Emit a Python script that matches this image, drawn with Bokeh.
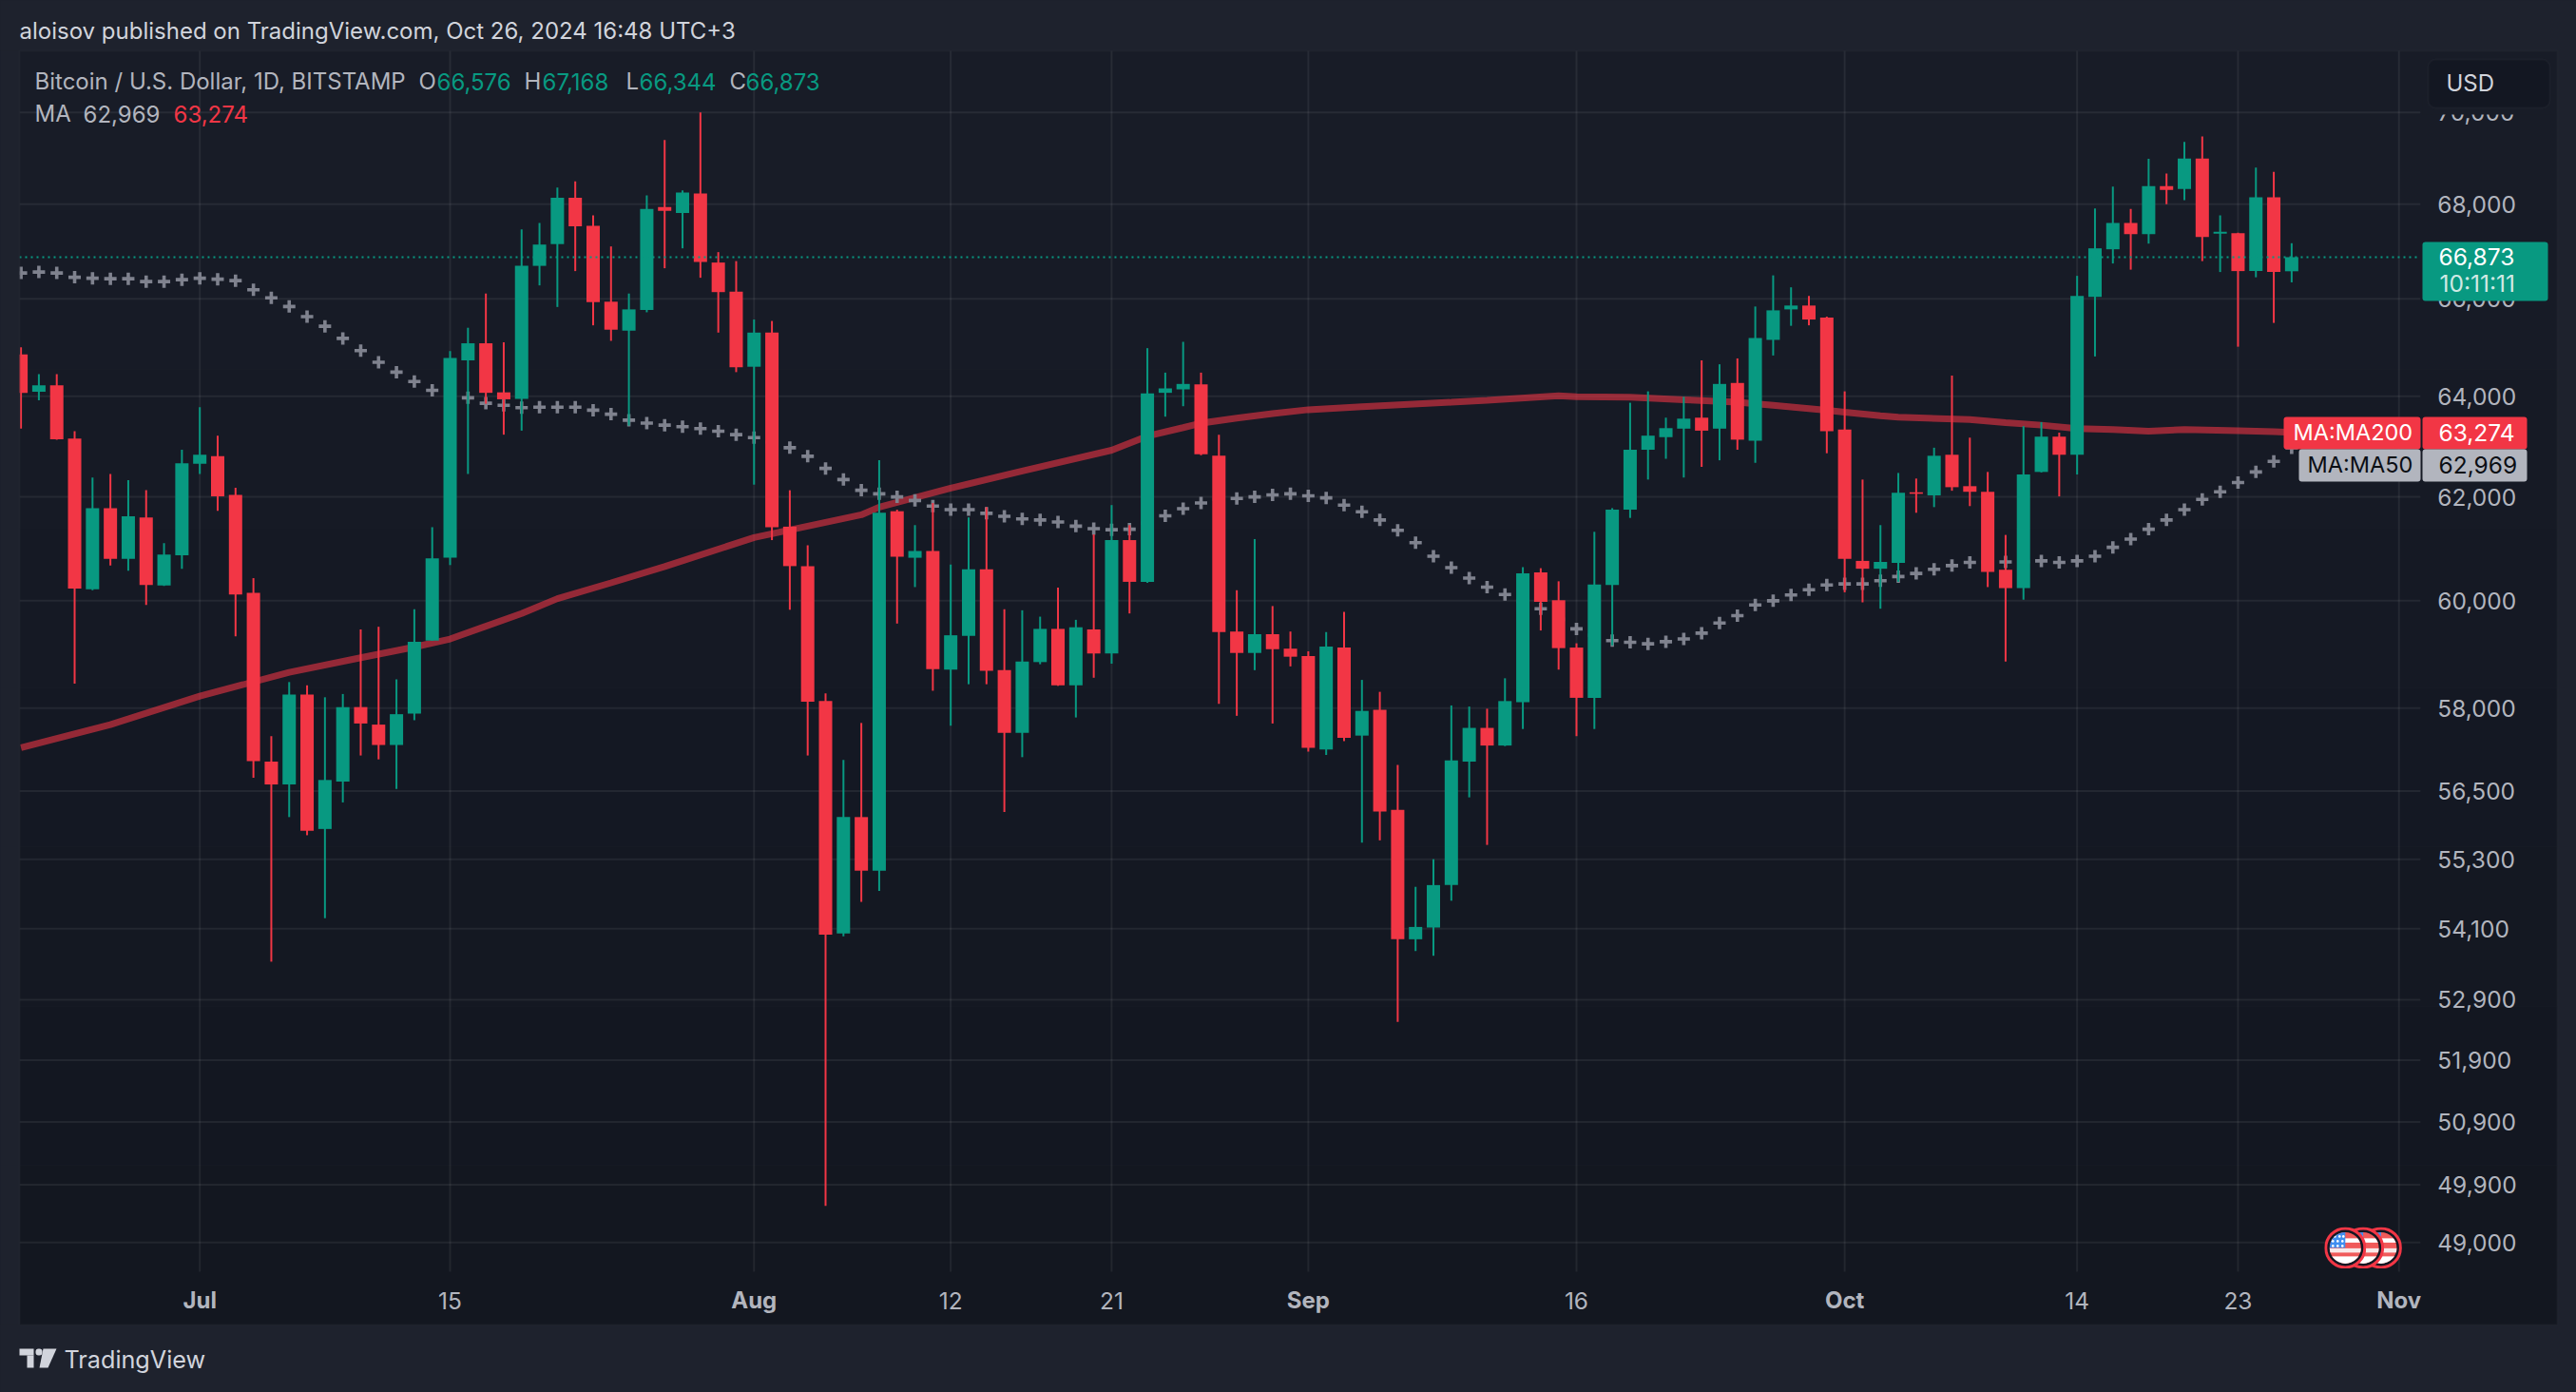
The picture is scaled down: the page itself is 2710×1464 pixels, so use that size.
import base64
from bokeh.plotting import figure
from bokeh.models import (ColumnDataSource, FixedTicker, NumeralTickFormatter, Range1d, Label, LinearAxis, LogAxis,
                          BoxAnnotation, PolyAnnotation)
from bokeh.embed import file_html
from bokeh.resources import INLINE

# ---------- data (days counted from 1 Jul 2024) ----------
days = list(range(-10, 118))
opens = [64850,64090,64220,63150,60220,61780,60800,61600,60290,60870,
 62650,62800,62040,60150,57030,56620,58250,55830,56670,58020,57700,57330,57900,59250,60820,64730,65080,64080,63950,66690,
 67150,68140,67540,65940,65340,65770,67940,67810,68230,66760,66150,64600,65300,61420,60660,58130,54020,56040,55100,61720,
 60820,60950,58710,59340,60600,58700,57550,58850,59470,58420,59460,59010,61160,60360,64070,64140,64240,62810,59420,59020,
 59370,59100,58960,57250,59120,57500,57970,56170,53920,54120,54850,57030,57640,57320,58110,60540,60010,59120,58190,60300,
 61750,62930,63180,63350,63570,63350,64270,63110,65150,65780,65860,65610,63330,60760,60610,60720,62090,62030,62830,62210,
 62100,60590,60240,62490,63190,62830,66040,67040,67600,67360,68390,68330,68990,67370,67380,66580,68150,66576]
highs = [65000,64450,64450,63300,62380,62450,62330,62130,61100,62930,
 63780,63210,62180,60430,57490,58480,58420,58200,58260,59460,59510,58530,59840,61410,64920,65400,66110,65100,67460,67600,
 68360,68490,67760,67100,66110,68190,69390,68300,70000,66980,66790,65570,65540,62130,61060,58270,57060,57730,62720,61750,
 61450,61880,60690,61600,61800,59840,59820,59700,60250,59640,61270,61840,61450,64980,64480,65110,64480,63230,60200,61180,
 59900,59420,59050,59410,59790,58520,58300,56970,54820,55300,58050,58030,57990,58550,60640,60620,60370,59200,61320,61780,
 63870,64100,63570,63990,64730,64650,64770,65840,66490,66240,66060,65630,64100,62340,61450,62470,62360,62970,64420,63170,
 62490,61260,63400,63480,63270,66480,67910,68380,67900,68980,68660,69350,69470,67760,67390,68790,68700,67168]
lows = [63350,63920,63130,58450,60200,60670,60570,59920,60280,60610,
 62450,61730,59330,56740,53540,56040,55720,54280,56300,57140,57070,56540,57780,59250,60680,62450,63850,63230,63310,66280,
 65830,66580,65450,65130,63410,65720,66640,67060,66440,65300,64490,62240,61160,59830,57140,49570,53970,54560,54750,59570,
 60260,58320,57680,58440,58440,56130,57110,58810,58410,57830,58560,58820,59760,60340,63590,63800,62820,58080,57860,58700,
 57720,58770,57210,57150,57400,55590,55630,52530,53720,53640,54580,56390,55550,57310,57620,59440,58710,57490,57620,59160,
 61590,62340,62750,62380,62590,62720,62930,62670,64830,65440,65450,62860,60160,59970,59850,60360,61690,61800,62120,61820,
 60260,58860,60020,62480,62010,62440,64810,66740,66610,67160,68000,68090,66790,66560,65010,66450,65500,66344]
closes = [64070,64220,63140,60230,61780,60800,61620,60300,60880,62660,
 62830,62010,60120,57040,56620,58250,55800,56700,58020,57720,57330,57890,59230,60810,64780,65080,64070,63940,66690,67140,
 68140,67530,65930,65360,65780,67900,67860,68250,66770,66140,64590,65300,61410,60660,58120,54000,56040,55100,61690,60840,
 60950,58720,59350,60600,58690,57550,58860,59470,58420,59500,59010,61160,60360,64060,64160,64250,62840,59410,59020,59370,
 59090,58950,57280,59140,57460,57950,56140,53920,54130,54850,57050,57640,57320,58130,60520,59980,59110,58190,60310,61750,
 62930,63210,63360,63550,63310,64250,63130,65190,65760,65860,65570,63300,60800,60610,60740,62080,62060,62810,62190,62100,
 60550,60240,62440,63190,62830,66060,67060,67600,67360,68390,68310,68990,67300,67410,66580,68150,66560,66873]
ma50 = [66540,66560,66540,66450,66430,66420,66420,66360,66360,66400,
 66430,66410,66380,66190,66020,65840,65630,65430,65180,64930,64690,64490,64300,64120,64040,63970,63860,63820,63770,63780,
 63780,63780,63720,63640,63520,63460,63420,63390,63350,63300,63230,63170,63080,62970,62800,62560,62340,62130,62060,62000,
 61930,61820,61750,61750,61680,61620,61570,61550,61510,61430,61380,61360,61370,61490,61630,61770,61880,61950,61970,62000,
 62040,62060,62020,61980,61840,61710,61550,61350,61110,60850,60630,60430,60260,60120,59990,59850,59650,59470,59350,59250,
 59220,59190,59230,59280,59390,59580,59720,59920,60000,60110,60210,60300,60320,60320,60380,60460,60520,60600,60670,60730,
 60740,60740,60750,60760,60730,60760,60850,61020,61180,61370,61550,61750,61950,62100,62280,62490,62700,62969]
ma200_days = [-10,-5,0,5,9,12,14,18,20,23,26,31,37,38,42,46,51,53,55,56,58,60,62,65,70,72,76,77,80,83,86,88,91,92,94,95,99,101,103,105,107,109,111,114,116,117]
ma200 = [57280,57700,58220,58660,58930,59130,59280,59760,60040,60340,60650,61210,61650,61800,62170,62510,62920,63200,63370,63460,
 63560,63650,63730,63790,63880,63920,64010,63990,63980,63930,63880,63820,63720,63680,63610,63580,63530,63470,63420,63350,
 63330,63300,63330,63310,63290,63274]
price_ticks = [49000,49900,50900,51900,52900,54100,55300,56500,58000,60000,62000,64000,66000,68000,70000]
day_ticks = [14,42,51,77,105,114]
day_labels = ["15","12","21","16","14","23"]
month_ticks = [0,31,62,92,123]
month_labels = ["Jul","Aug","Sep","Oct","Nov"]
event_days = [122,121,120]
event_price = 48916
last_price = 66873

# ---------- style ----------
UP, DOWN = "#089981", "#f23645"
OUTER, EDGE = "#1e222d", "#2a2e39"
GRAD = ["#181c27","#171b26","#161a25","#151924","#141823","#141822","#131721","#131720"]
FONT = "Inter"
AXIS_TXT, HEAD_TXT = "#b2b5be", "#d1d4dc"
PANE_L, PANE_R, PANE_B, PANE_T = -10.085, 124.2, 48547, 71372   # pane limits on the chart's own scales

# the frame covers the whole canvas so that axes and tags can sit anywhere on it
p = figure(width=2710, height=1464, output_backend="svg", toolbar_location=None,
           y_axis_type="log", x_axis_location=None, y_axis_location=None,
           x_range=Range1d(-11.148, 132.93), y_range=Range1d(46733, 72517),
           min_border=0, background_fill_alpha=0, border_fill_color=OUTER, outline_line_color=None)
p.grid.visible = False

def box(l, r, t, b, **kw):
    a = BoxAnnotation(left=l, right=r, top=t, bottom=b,
                      left_units="canvas", right_units="canvas", top_units="canvas", bottom_units="canvas", **kw)
    p.add_layout(a)
    return a

def text(x, y, s, color=AXIS_TXT, size=24, **kw):
    kw.setdefault("text_baseline", "middle")
    lab = Label(x=x, y=y, x_units="canvas", y_units="canvas", text=s, text_color=color,
                text_font=FONT, text_font_size=f"{size}px", **kw)
    p.add_layout(lab)
    return lab

# whole-page background and panel gradient
box(0, 2710, 0, 1464, fill_color=OUTER, fill_alpha=1, line_color=None, level="image")
top0, bot0 = 53, 1393
n = len(GRAD)
for i, c in enumerate(GRAD):
    box(20, 2690, top0 + (bot0-top0)*i//n, top0 + (bot0-top0)*(i+1)//n, fill_color=c, fill_alpha=1,
        line_color=None, level="image")

# grid, limited to the pane
all_ticks = day_ticks + month_ticks
p.segment(x0=[PANE_L]*len(price_ticks), x1=[PANE_R]*len(price_ticks), y0=price_ticks, y1=price_ticks,
          line_color="#f2f2f2", line_alpha=0.07, line_width=2, level="underlay")
p.segment(x0=all_ticks, x1=all_ticks, y0=[PANE_B]*len(all_ticks), y1=[PANE_T]*len(all_ticks),
          line_color="#f2f2f2", line_alpha=0.07, line_width=2, level="underlay")

# axes
yax = LogAxis(fixed_location=PANE_R, ticker=FixedTicker(ticks=price_ticks), formatter=NumeralTickFormatter(format="0,0"))
xax = LinearAxis(fixed_location=PANE_B, ticker=FixedTicker(ticks=all_ticks),
                 major_label_overrides={**dict(zip(day_ticks, day_labels)), **{m: "" for m in month_ticks}})
for ax in (xax, yax):
    ax.axis_line_color = None
    ax.major_tick_line_color = None
    ax.minor_tick_line_color = None
    ax.major_label_text_color = AXIS_TXT
    ax.major_label_text_font = FONT
    ax.major_label_text_font_size = "24.5px"
yax.major_label_standoff = 12
xax.major_label_standoff = 15
p.add_layout(yax, "right")
p.add_layout(xax, "below")

# series
src = ColumnDataSource(dict(x=days, o=opens, h=highs, l=lows, c=closes, m=ma50,
    top=[max(a, b) for a, b in zip(opens, closes)], bot=[min(a, b) for a, b in zip(opens, closes)],
    col=[UP if c >= o else DOWN for o, c in zip(opens, closes)]))
p.line(ma200_days, ma200, line_color=DOWN, line_alpha=0.58, line_width=7)
p.scatter("x", "m", source=src, marker="cross", size=13, line_color="#7f828e", line_width=3.6)
p.segment("x", "h", "x", "l", source=src, line_color="col", line_width=2)
p.vbar("x", width=0.745, top="top", bottom="bot", source=src, fill_color="col", line_color=None)
p.segment(x0=[PANE_L], x1=[PANE_R], y0=[last_price], y1=[last_price], line_color=UP, line_dash="2 4", line_width=2)

# left margin hides what leaves the pane; frame line on top
box(0, 20, 53, 1393, fill_color=OUTER, fill_alpha=1, line_color=None, level="guide")
box(20, 2690, 53, 1393, fill_alpha=0, line_color=EDGE, line_width=2, level="guide")

# event flags
flag = """<svg xmlns='http://www.w3.org/2000/svg' width='44' height='44' viewBox='0 0 44 44'>
<defs><clipPath id='c'><circle cx='22' cy='22' r='16.5'/></clipPath></defs>
<circle cx='22' cy='22' r='20.5' fill='#131722' stroke='#f23645' stroke-width='3'/>
<g clip-path='url(#c)'><rect width='44' height='44' fill='#f05a5a'/>
<rect y='12' width='44' height='4.5' fill='#ffffff'/><rect y='22.5' width='44' height='4.5' fill='#f9e9e9'/>
<rect y='31' width='44' height='9' fill='#ffffff'/><rect width='22' height='22' fill='#3f8ef0'/>
<g fill='#ffffff'><circle cx='11' cy='10' r='1.3'/><circle cx='16' cy='10' r='1.3'/><circle cx='20' cy='10' r='1.3'/>
<circle cx='9' cy='15' r='1.3'/><circle cx='14' cy='15' r='1.3'/><circle cx='19' cy='15' r='1.3'/>
<circle cx='9' cy='20' r='1.3'/><circle cx='14' cy='20' r='1.3'/><circle cx='19' cy='20' r='1.3'/></g></g></svg>"""
url = "data:image/svg+xml;base64," + base64.b64encode(flag.encode()).decode()
p.image_url(url=[url]*len(event_days), x=event_days, y=[event_price]*len(event_days), w=44, h=44,
            w_units="screen", h_units="screen", anchor="center")

# bold month labels on the time axis
for m, s in zip(month_ticks, month_labels):
    p.add_layout(Label(x=m, y=1367, x_units="data", y_units="canvas", text=s, text_align="center",
                       text_baseline="middle", text_color=AXIS_TXT, text_font=FONT, text_font_size="24px",
                       text_font_style="bold"))

# price tags
box(2548, 2680, 254, 316, fill_color=UP, fill_alpha=1, line_color=None, level="overlay", border_radius=3)
text(2565, 269, "66,873", "#ffffff", size=24.5, level="overlay")
text(2566, 297, "10:11:11", "#cfe9e4", size=24.5, level="overlay")
box(2402, 2546, 438, 472, fill_color=DOWN, fill_alpha=1, line_color=None, level="overlay", border_radius=3)
box(2548, 2658, 438, 472, fill_color=DOWN, fill_alpha=1, line_color=None, level="overlay", border_radius=3)
text(2412, 454, "MA:MA200", "#ffffff", size=23.5, level="overlay")
text(2565, 454, "63,274", "#ffffff", size=24.5, level="overlay")
box(2418, 2546, 472, 506, fill_color="#b2b5be", fill_alpha=1, line_color=None, level="overlay", border_radius=3)
box(2548, 2658, 472, 506, fill_color="#b2b5be", fill_alpha=1, line_color=None, level="overlay", border_radius=3)
text(2427, 488, "MA:MA50", "#0b0e14", size=23.5, level="overlay")
text(2565, 488, "62,969", "#0b0e14", size=24.5, level="overlay")
# the currency button and the strip under it hide most of the top tick label
box(2548, 2688, 100, 120, fill_color=GRAD[0], fill_alpha=1, line_color=None, level="overlay")
box(2554, 2682, 62, 113, fill_color="#131722", fill_alpha=1, line_color=EDGE, line_width=2, level="overlay", border_radius=8)
text(2573, 87, "USD", HEAD_TXT, level="overlay")

# header, legend
text(20, 32, "aloisov published on TradingView.com, Oct 26, 2024 16:48 UTC+3", HEAD_TXT)
text(36, 85, "Bitcoin / U.S. Dollar, 1D, BITSTAMP")
for x, s in [(440, "O"), (551, "H"), (658, "L"), (767, "C")]:
    text(x, 85, s)
for x, s in [(459, "66,576"), (570, "67,168"), (672, "66,344"), (784, "66,873")]:
    text(x, 85, s, UP)
text(36, 119, "MA")
text(87, 119, "62,969")
text(182, 119, "63,274", DOWN)

# footer logo
LOGO = "#d1d4dc"
box(20, 35, 1418, 1425, fill_color=LOGO, fill_alpha=1, line_color=None)
box(28, 35, 1425, 1438, fill_color=LOGO, fill_alpha=1, line_color=None)
box(37, 44, 1418, 1425, fill_color=LOGO, fill_alpha=1, line_color=None, border_radius=3)
p.add_layout(PolyAnnotation(xs=[45, 59, 50, 41], ys=[1418, 1418, 1438, 1438],
                            xs_units="canvas", ys_units="canvas", fill_color=LOGO, fill_alpha=1, line_color=None))
text(67, 1429, "TradingView", HEAD_TXT, size=25.2)

html = file_html(p, INLINE).replace("</head>", "<style>body{background:#1e222d}</style></head>")
open("out.html", "w").write(html)
